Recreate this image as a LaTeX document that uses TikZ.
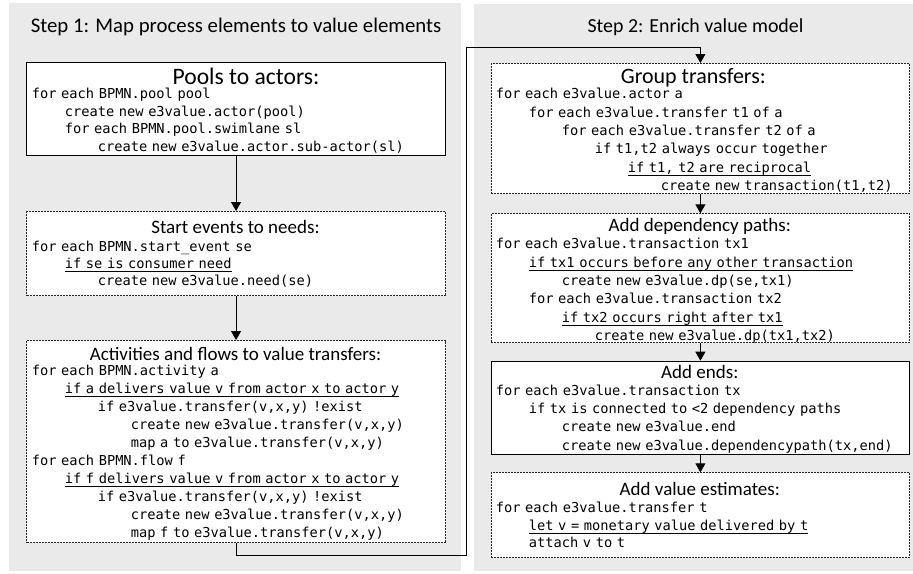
\documentclass[tikz,border=0pt]{standalone}
\usepackage{fontspec}
\newfontfamily\titf{Carlito}
\newfontfamily\codef{DejaVu Sans Mono}
\usetikzlibrary{arrows.meta}
\definecolor{panelgray}{RGB}{234,234,234}
\newlength\cw \setlength\cw{8.25pt}
\newcommand\ind[1]{\hspace*{#1\cw}}
\newsavebox\ulbox
\newcommand\ul[1]{\sbox\ulbox{#1}\rlap{\rule[-3.6pt]{\wd\ulbox}{0.8pt}}\usebox\ulbox}
\begin{document}
\begin{tikzpicture}[x=1pt,y=-1pt,
 solidbox/.style={draw=black, line width=1.1pt, fill=white, anchor=north west, inner sep=0pt},
 dotbox/.style={draw=black!85, line width=1.1pt, dash pattern=on 2pt off 1pt, fill=white, anchor=north west, inner sep=0pt},
 steptitle/.style={font=\titf\fontsize{#1}{24}\selectfont, anchor=base, inner sep=0pt},
 boxtitle/.style={font=\titf\fontsize{#1}{24}\selectfont, anchor=base, inner sep=0pt},
 boxtitle/.default=19,
 code/.style={font=\codef\fontsize{13.7}{#1}\selectfont, align=left, text width=415pt, anchor=base west, inner sep=0pt},
 arr/.style={draw=black, line width=0.9pt, -{Triangle[length=9pt,width=10pt]}}]
\useasboundingbox (0,0) rectangle (913,573);
\fill[panelgray] (9,2.7) rectangle (461,571);
\fill[panelgray] (474,4) rectangle (913,571);
\node[steptitle=20.8] (s1) at (236,32) {Step 1: Map process elements to value elements};
\node[steptitle=19.9] (s2) at (695.5,32.5) {Step 2: Enrich value model};
% left boxes
\node[solidbox, minimum width=419pt, minimum height=93.3pt] (b1) at (26,61.7) {};
\node[dotbox, minimum width=419pt, minimum height=84pt] (b2) at (26,211) {};
\node[dotbox, minimum width=419pt, minimum height=202.3pt] (b3) at (26,340) {};
% right boxes
\node[dotbox, minimum width=418.3pt, minimum height=130.3pt] (r1) at (490.7,63) {};
\node[dotbox, minimum width=418.3pt, minimum height=129pt] (r2) at (490.7,213.3) {};
\node[solidbox, minimum width=418.3pt, minimum height=93.3pt] (r3) at (490.7,360.7) {};
\node[dotbox, minimum width=418.3pt, minimum height=85pt] (r4) at (490.7,472.3) {};
% titles
\node[boxtitle=23.6] (b1t) at (246,84.6) {Pools to actors:};
\node[boxtitle] (b2t) at (235.5,233.2) {Start events to needs:};
\node[boxtitle] (b3t) at (235.5,360.5) {Activities and flows to value transfers:};
\node[boxtitle=22] (r1t) at (693.3,83.1) {Group transfers:};
\node[boxtitle] (r2t) at (699.8,231.5) {Add dependency paths:};
\node[boxtitle] (r3t) at (699.8,378.2) {Add ends:};
\node[boxtitle] (r4t) at (699.8,495.8) {Add value estimates:};
% code
\node[code=17.5pt] (b1c) at (31.7,98.8) {for each BPMN.pool pool\\
\ind{4}create new e3value.actor(pool)\\
\ind{4}for each BPMN.pool.swimlane sl\\
\ind{8}create new e3value.actor.sub-actor(sl)};
\node[code=17.2pt] (b2c) at (31.7,251.2) {for each BPMN.start\_event se\\
\ind{4}\ul{if se is consumer need}\\
\ind{8}create new e3value.need(se)};
\node[code=18pt] (b3c) at (31.7,375.2) {for each BPMN.activity a\\
\ind{4}\ul{if a delivers value v from actor x to actor y}\\
\ind{8}if e3value.transfer(v,x,y) !exist\\
\ind{12}create new e3value.transfer(v,x,y)\\
\ind{12}map a to e3value.transfer(v,x,y)\\
for each BPMN.flow f\\
\ind{4}\ul{if f delivers value v from actor x to actor y}\\
\ind{8}if e3value.transfer(v,x,y) !exist\\
\ind{12}create new e3value.transfer(v,x,y)\\
\ind{12}map f to e3value.transfer(v,x,y)};
\node[code=18.3pt] (r1c) at (495.7,98.8) {for each e3value.actor a\\
\ind{4}for each e3value.transfer t1 of a\\
\ind{8}for each e3value.transfer t2 of a\\
\ind{12}if t1,t2 always occur together\\
\ind{16}\ul{if t1, t2 are reciprocal}\\
\ind{20}create new transaction(t1,t2)};
\node[code=18.3pt] (r2c) at (495.7,248.8) {for each e3value.transaction tx1\\
\ind{4}\ul{if tx1 occurs before any other transaction}\\
\ind{8}create new e3value.dp(se,tx1)\\
\ind{4}for each e3value.transaction tx2\\
\ind{8}\ul{if tx2 occurs right after tx1}\\
\ind{12}create new e3value.dp(tx1,tx2)};
\node[code=18.3pt] (r3c) at (495.7,395.2) {for each e3value.transaction tx\\
\ind{4}if tx is connected to <2 dependency paths\\
\ind{8}create new e3value.end\\
\ind{8}create new e3value.dependencypath(tx,end)};
\node[code=17.5pt] (r4c) at (495.7,512.8) {for each e3value.transfer t\\
\ind{4}\ul{let v = monetary value delivered by t}\\
\ind{4}attach v to t};
% connectors
\draw[arr] (b1.south) -- (b2.north);
\draw[arr] (b2.south) -- (b3.north);
\coordinate (c1) at (466,555);
\coordinate (c2) at (466,47.7);
\draw[arr] (b3.south) |- (c1) -- (c2) -| (r1.north);
\draw[arr] (r1.south) -- (r2.north);
\draw[arr] (r2.south) -- (r3.north);
\draw[arr] (r3.south) -- (r4.north);
\end{tikzpicture}
\end{document}
